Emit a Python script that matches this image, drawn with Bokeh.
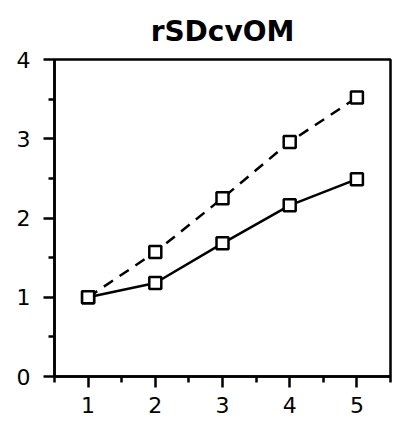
from bokeh.plotting import figure
from bokeh.models import FixedTicker, Range1d
from bokeh.embed import file_html
from bokeh.resources import INLINE

title_text = "rSDcvOM"
x_vals = [1, 2, 3, 4, 5]
solid_vals = [1.0, 1.18, 1.68, 2.16, 2.49]
dashed_vals = [1.0, 1.57, 2.25, 2.96, 3.52]
x_ticks = [1, 2, 3, 4, 5]
x_minor = [0.5, 1.5, 2.5, 3.5, 4.5, 5.5]
y_ticks = [0, 1, 2, 3, 4]
y_minor = [0.5, 1.5, 2.5, 3.5]

p = figure(width=394, height=425, output_backend="svg", toolbar_location=None,
           x_range=Range1d(0.5, 5.5), y_range=Range1d(0, 4),
           min_border_left=54, min_border_right=4, min_border_top=58, min_border_bottom=49)

p.title.text = title_text
p.title.align = "center"
p.title.text_font = "DejaVu Sans"
p.title.text_font_size = "28px"
p.title.text_font_style = "bold"
p.title.text_color = "black"
p.title.standoff = 24

p.grid.visible = False
p.outline_line_color = "black"
p.outline_line_width = 2.5
p.background_fill_color = "white"
p.border_fill_color = "white"

for ax, t, m, so in ((p.xaxis[0], x_ticks, x_minor, 9), (p.yaxis[0], y_ticks, y_minor, 13)):
    ax.ticker = FixedTicker(ticks=t, minor_ticks=m)
    ax.axis_line_width = 2.5
    ax.major_tick_line_width = 2.5
    ax.minor_tick_line_width = 2.5
    ax.major_tick_out = 11
    ax.major_tick_in = 0
    ax.minor_tick_out = 6
    ax.minor_tick_in = 0
    ax.major_label_text_font = "DejaVu Sans"
    ax.major_label_text_font_size = "22px"
    ax.major_label_text_color = "black"
    ax.major_label_standoff = so

p.line(x_vals, dashed_vals, line_color="black", line_width=2.5, line_dash="11 8")
p.line(x_vals, solid_vals, line_color="black", line_width=2.5)
p.scatter(x_vals, dashed_vals, marker="square", size=12, fill_color="white",
          line_color="black", line_width=2.5)
p.scatter(x_vals, solid_vals, marker="square", size=12, fill_color="white",
          line_color="black", line_width=2.5)

open("out.html", "w").write(file_html(p, INLINE))
